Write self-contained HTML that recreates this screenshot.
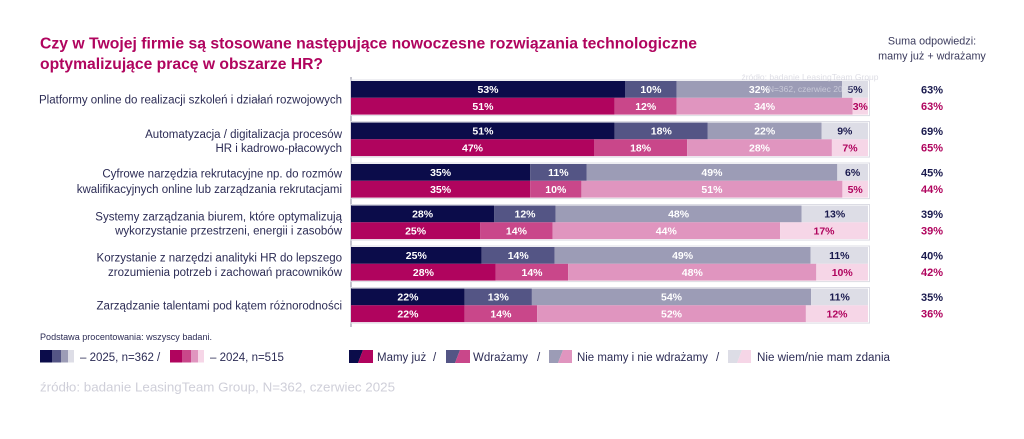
<!DOCTYPE html>
<html>
<head>
<meta charset="utf-8">
<style>
  html,body{margin:0;padding:0;background:#ffffff;}
  body{width:1024px;height:439px;overflow:hidden;}
  svg{display:block;font-family:"Liberation Sans",Arial,sans-serif;}
  .t{font-weight:bold;fill:#b0045e;font-size:16px;}
  .lbl{fill:#2c2c55;font-size:11.5px;}
  .v{font-weight:bold;font-size:10.5px;text-anchor:middle;}
  .w{fill:#ffffff;}
  .n{fill:#1a1a4e;}
  .m{fill:#b0045e;}
  .hd{fill:#3a3a5c;font-size:10.8px;text-anchor:middle;}
  .lg{fill:#2c2c55;font-size:11.5px;}
</style>
</head>
<body>
<svg width="1024" height="439" viewBox="0 0 1024 439" xmlns="http://www.w3.org/2000/svg">
  <rect width="1024" height="439" fill="#ffffff"/>

  <!-- Title -->
  <text class="t" x="40" y="48.5" textLength="657" lengthAdjust="spacingAndGlyphs">Czy w Twojej firmie są stosowane następujące nowoczesne rozwiązania technologiczne</text>
  <text class="t" x="40" y="69" textLength="283" lengthAdjust="spacingAndGlyphs">optymalizujące pracę w obszarze HR?</text>

  <!-- Right header -->
  <text class="hd" x="932" y="44.5">Suma odpowiedzi:</text>
  <text class="hd" x="932" y="59.5">mamy już + wdrażamy</text>

  <!-- axis line -->
  <line x1="351" y1="77" x2="351" y2="327" stroke="#8a8a9c" stroke-width="1"/>

  <!-- Row frames -->
  <g fill="none" stroke="#dcdce4" stroke-width="1">
    <rect x="350.5" y="80" width="519" height="35.6"/>
    <rect x="350.5" y="121.5" width="519" height="35.6"/>
    <rect x="350.5" y="163" width="519" height="35.6"/>
    <rect x="350.5" y="204.5" width="519" height="35.6"/>
    <rect x="350.5" y="246" width="519" height="35.6"/>
    <rect x="350.5" y="287.5" width="519" height="35.6"/>
  </g>

  <!-- ROW 1 (top 81) -->
  <g>
    <rect x="351" y="81" width="274" height="16.8" fill="#0b0c4a"/>
    <rect x="625" y="81" width="51.7" height="16.8" fill="#545585"/>
    <rect x="676.7" y="81" width="165.4" height="16.8" fill="#9c9cb6"/>
    <rect x="842.1" y="81" width="25.9" height="16.8" fill="#dddde6"/>
    <rect x="351" y="97.8" width="263.7" height="16.8" fill="#b0045e"/>
    <rect x="614.7" y="97.8" width="62" height="16.8" fill="#c9478a"/>
    <rect x="676.7" y="97.8" width="175.8" height="16.8" fill="#e095bf"/>
    <rect x="852.5" y="97.8" width="15.5" height="16.8" fill="#f6d6e7"/>
    <text class="v w" x="488" y="93.1">53%</text>
    <text class="v w" x="650.9" y="93.1">10%</text>
    <text class="v w" x="759.4" y="93.1">32%</text>
    <text class="v n" x="855" y="93.1">5%</text>
    <text class="v w" x="482.9" y="109.9">51%</text>
    <text class="v w" x="645.7" y="109.9">12%</text>
    <text class="v w" x="764.6" y="109.9">34%</text>
    <text class="v m" x="860.3" y="109.9">3%</text>
    <text x="810" y="80" font-size="8.5" fill="#c8c8d4" opacity="0.6" text-anchor="middle">źródło: badanie LeasingTeam Group</text>
    <text x="810" y="92" font-size="8.5" fill="#e6e6ee" opacity="0.6" text-anchor="middle">N=362, czerwiec 2025</text>
  </g>

  <!-- ROW 2 (top 122.5) -->
  <g>
    <rect x="351" y="122.5" width="263.7" height="16.8" fill="#0b0c4a"/>
    <rect x="614.7" y="122.5" width="93.1" height="16.8" fill="#545585"/>
    <rect x="707.8" y="122.5" width="113.7" height="16.8" fill="#9c9cb6"/>
    <rect x="821.5" y="122.5" width="46.5" height="16.8" fill="#dddde6"/>
    <rect x="351" y="139.3" width="243" height="16.8" fill="#b0045e"/>
    <rect x="594" y="139.3" width="93.1" height="16.8" fill="#c9478a"/>
    <rect x="687.1" y="139.3" width="144.8" height="16.8" fill="#e095bf"/>
    <rect x="831.9" y="139.3" width="36.1" height="16.8" fill="#f6d6e7"/>
    <text class="v w" x="482.9" y="134.6">51%</text>
    <text class="v w" x="661.3" y="134.6">18%</text>
    <text class="v w" x="764.7" y="134.6">22%</text>
    <text class="v n" x="844.8" y="134.6">9%</text>
    <text class="v w" x="472.5" y="151.4">47%</text>
    <text class="v w" x="640.6" y="151.4">18%</text>
    <text class="v w" x="759.5" y="151.4">28%</text>
    <text class="v m" x="850" y="151.4">7%</text>
  </g>

  <!-- ROW 3 (top 164) -->
  <g>
    <rect x="351" y="164" width="179.2" height="16.8" fill="#0b0c4a"/>
    <rect x="530.2" y="164" width="56.3" height="16.8" fill="#545585"/>
    <rect x="586.5" y="164" width="250.8" height="16.8" fill="#9c9cb6"/>
    <rect x="837.3" y="164" width="30.7" height="16.8" fill="#dddde6"/>
    <rect x="351" y="180.8" width="179.2" height="16.8" fill="#b0045e"/>
    <rect x="530.2" y="180.8" width="51.2" height="16.8" fill="#c9478a"/>
    <rect x="581.4" y="180.8" width="261" height="16.8" fill="#e095bf"/>
    <rect x="842.4" y="180.8" width="25.6" height="16.8" fill="#f6d6e7"/>
    <text class="v w" x="440.6" y="176.1">35%</text>
    <text class="v w" x="558.4" y="176.1">11%</text>
    <text class="v w" x="711.9" y="176.1">49%</text>
    <text class="v n" x="852.6" y="176.1">6%</text>
    <text class="v w" x="440.6" y="192.9">35%</text>
    <text class="v w" x="555.8" y="192.9">10%</text>
    <text class="v w" x="711.9" y="192.9">51%</text>
    <text class="v m" x="855.2" y="192.9">5%</text>
  </g>

  <!-- ROW 4 (top 205.5) -->
  <g>
    <rect x="351" y="205.5" width="143.3" height="16.8" fill="#0b0c4a"/>
    <rect x="494.3" y="205.5" width="61.4" height="16.8" fill="#545585"/>
    <rect x="555.7" y="205.5" width="245.8" height="16.8" fill="#9c9cb6"/>
    <rect x="801.5" y="205.5" width="66.5" height="16.8" fill="#dddde6"/>
    <rect x="351" y="222.3" width="129.3" height="16.8" fill="#b0045e"/>
    <rect x="480.3" y="222.3" width="72.3" height="16.8" fill="#c9478a"/>
    <rect x="552.6" y="222.3" width="227.5" height="16.8" fill="#e095bf"/>
    <rect x="780.1" y="222.3" width="87.9" height="16.8" fill="#f6d6e7"/>
    <text class="v w" x="422.6" y="217.6">28%</text>
    <text class="v w" x="525" y="217.6">12%</text>
    <text class="v w" x="678.6" y="217.6">48%</text>
    <text class="v n" x="834.7" y="217.6">13%</text>
    <text class="v w" x="415.6" y="234.4">25%</text>
    <text class="v w" x="516.4" y="234.4">14%</text>
    <text class="v w" x="666.3" y="234.4">44%</text>
    <text class="v m" x="824" y="234.4">17%</text>
  </g>

  <!-- ROW 5 (top 247) -->
  <g>
    <rect x="351" y="247" width="130.6" height="16.8" fill="#0b0c4a"/>
    <rect x="481.6" y="247" width="73.1" height="16.8" fill="#545585"/>
    <rect x="554.7" y="247" width="255.9" height="16.8" fill="#9c9cb6"/>
    <rect x="810.6" y="247" width="57.4" height="16.8" fill="#dddde6"/>
    <rect x="351" y="263.8" width="144.8" height="16.8" fill="#b0045e"/>
    <rect x="495.8" y="263.8" width="72.4" height="16.8" fill="#c9478a"/>
    <rect x="568.2" y="263.8" width="248.1" height="16.8" fill="#e095bf"/>
    <rect x="816.3" y="263.8" width="51.7" height="16.8" fill="#f6d6e7"/>
    <text class="v w" x="416.3" y="259.1">25%</text>
    <text class="v w" x="518.2" y="259.1">14%</text>
    <text class="v w" x="682.6" y="259.1">49%</text>
    <text class="v n" x="839.3" y="259.1">11%</text>
    <text class="v w" x="423.4" y="275.9">28%</text>
    <text class="v w" x="532" y="275.9">14%</text>
    <text class="v w" x="692.3" y="275.9">48%</text>
    <text class="v m" x="842.2" y="275.9">10%</text>
  </g>

  <!-- ROW 6 (top 288.5) -->
  <g>
    <rect x="351" y="288.5" width="113.7" height="16.8" fill="#0b0c4a"/>
    <rect x="464.7" y="288.5" width="67.2" height="16.8" fill="#545585"/>
    <rect x="531.9" y="288.5" width="279.2" height="16.8" fill="#9c9cb6"/>
    <rect x="811.1" y="288.5" width="56.9" height="16.8" fill="#dddde6"/>
    <rect x="351" y="305.3" width="113.7" height="16.8" fill="#b0045e"/>
    <rect x="464.7" y="305.3" width="72.4" height="16.8" fill="#c9478a"/>
    <rect x="537.1" y="305.3" width="268.8" height="16.8" fill="#e095bf"/>
    <rect x="805.9" y="305.3" width="62.1" height="16.8" fill="#f6d6e7"/>
    <text class="v w" x="407.9" y="300.6">22%</text>
    <text class="v w" x="498.3" y="300.6">13%</text>
    <text class="v w" x="671.5" y="300.6">54%</text>
    <text class="v n" x="839.6" y="300.6">11%</text>
    <text class="v w" x="407.9" y="317.4">22%</text>
    <text class="v w" x="500.9" y="317.4">14%</text>
    <text class="v w" x="671.5" y="317.4">52%</text>
    <text class="v m" x="837" y="317.4">12%</text>
  </g>

  <!-- Row labels -->
  <g class="lbl" text-anchor="end">
    <text x="342" y="103.3">Platformy online do realizacji szkoleń i działań rozwojowych</text>
    <text x="342" y="138">Automatyzacja / digitalizacja procesów</text>
    <text x="342" y="152">HR i kadrowo-płacowych</text>
    <text x="342" y="177.6">Cyfrowe narzędzia rekrutacyjne np. do rozmów</text>
    <text x="342" y="193">kwalifikacyjnych online lub zarządzania rekrutacjami</text>
    <text x="342" y="220.3">Systemy zarządzania biurem, które optymalizują</text>
    <text x="342" y="234.6">wykorzystanie przestrzeni, energii i zasobów</text>
    <text x="342" y="261.3">Korzystanie z narzędzi analityki HR do lepszego</text>
    <text x="342" y="276">zrozumienia potrzeb i zachowań pracowników</text>
    <text x="342" y="309.6">Zarządzanie talentami pod kątem różnorodności</text>
  </g>

  <!-- Right values -->
  <g font-size="11" font-weight="bold" text-anchor="middle">
    <text x="932" y="93.3" fill="#1a1a4e">63%</text>
    <text x="932" y="110.1" fill="#b0045e">63%</text>
    <text x="932" y="134.8" fill="#1a1a4e">69%</text>
    <text x="932" y="151.6" fill="#b0045e">65%</text>
    <text x="932" y="176.3" fill="#1a1a4e">45%</text>
    <text x="932" y="193.1" fill="#b0045e">44%</text>
    <text x="932" y="217.8" fill="#1a1a4e">39%</text>
    <text x="932" y="234.6" fill="#b0045e">39%</text>
    <text x="932" y="259.3" fill="#1a1a4e">40%</text>
    <text x="932" y="276.1" fill="#b0045e">42%</text>
    <text x="932" y="300.8" fill="#1a1a4e">35%</text>
    <text x="932" y="317.6" fill="#b0045e">36%</text>
  </g>

  <!-- Footer -->
  <text x="40" y="340" font-size="8.8" fill="#2c2c55" textLength="172" lengthAdjust="spacingAndGlyphs">Podstawa procentowania: wszyscy badani.</text>

  <!-- Legend year swatches -->
  <rect x="40" y="350" width="12" height="12.5" fill="#0b0c4a"/>
  <rect x="52" y="350" width="9" height="12.5" fill="#545585"/>
  <rect x="61" y="350" width="7" height="12.5" fill="#9c9cb6"/>
  <rect x="68" y="350" width="6" height="12.5" fill="#dddde6"/>
  <text class="lg" x="80" y="361">– 2025, n=362  /</text>
  <rect x="170" y="350" width="12" height="12.5" fill="#b0045e"/>
  <rect x="182" y="350" width="9" height="12.5" fill="#c9478a"/>
  <rect x="191" y="350" width="7" height="12.5" fill="#e095bf"/>
  <rect x="198" y="350" width="6" height="12.5" fill="#f6d6e7"/>
  <text class="lg" x="210" y="361">– 2024, n=515</text>

  <!-- Legend categories -->
  <polygon points="349,350 363,350 358,363 349,363" fill="#0b0c4a"/>
  <polygon points="363,350 373,350 373,363 358,363" fill="#b0045e"/>
  <text class="lg" x="377" y="361">Mamy już</text>
  <text class="lg" x="433" y="361">/</text>

  <polygon points="446,350 460,350 455,363 446,363" fill="#545585"/>
  <polygon points="460,350 470,350 470,363 455,363" fill="#c9478a"/>
  <text class="lg" x="473" y="361">Wdrażamy</text>
  <text class="lg" x="537" y="361">/</text>

  <polygon points="549,350 563,350 558,363 549,363" fill="#9c9cb6"/>
  <polygon points="563,350 572,350 572,363 558,363" fill="#e095bf"/>
  <text class="lg" x="577" y="361" textLength="131" lengthAdjust="spacingAndGlyphs">Nie mamy i nie wdrażamy</text>
  <text class="lg" x="716" y="361">/</text>

  <polygon points="728,350 742,350 737,363 728,363" fill="#dddde6"/>
  <polygon points="742,350 751,350 751,363 737,363" fill="#f6d6e7"/>
  <text class="lg" x="757" y="361" textLength="133" lengthAdjust="spacingAndGlyphs">Nie wiem/nie mam zdania</text>

  <!-- Source -->
  <text x="40" y="391.5" font-size="13" fill="#cfcfd9" textLength="355" lengthAdjust="spacingAndGlyphs">źródło: badanie LeasingTeam Group, N=362, czerwiec 2025</text>
</svg>
</body>
</html>
